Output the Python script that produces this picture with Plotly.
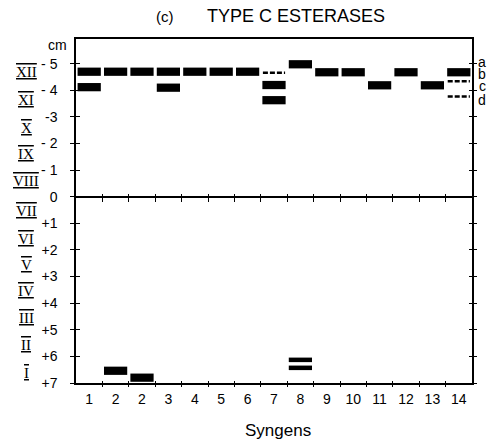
import plotly.graph_objects as go

# ---------------- data ----------------
syngen_labels = ["1", "2", "2", "3", "4", "5", "6", "7", "8", "9", "10", "11", "12", "13", "14"]

# strong bands: (column index, migration in cm)
band_col = [0, 0, 1, 1, 2, 2, 3, 3, 4, 5, 6, 7, 7, 8, 9, 10, 11, 12, 13, 14]
band_cm = [-4.70, -4.12, -4.70, 6.54, -4.70, 6.80, -4.70, -4.10, -4.70, -4.70, -4.70,
           -4.20, -3.63, -4.98, -4.68, -4.68, -4.19, -4.68, -4.19, -4.68]

# thin bands
thin_col = [8, 8]
thin_cm = [6.13, 6.43]

# faint (dashed) bands
faint_col = [7, 14, 14]
faint_cm = [-4.66, -4.34, -3.77]

tick_cm = [-5, -4, -3, -2, -1, 0, 1, 2, 3, 4, 5, 6, 7]
tick_text = ["- 5", "- 4", "-3", "- 2", "- 1", "0", "+1", "+2", "+3", "+4", "+5", "+6", "+7"]

roman_text = ["XII", "XI", "X", "IX", "VIII", "VII", "VI", "V", "IV", "III", "II", "I"]
roman_cm = [-4.70, -3.65, -2.60, -1.62, -0.60, 0.55, 1.57, 2.57, 3.55, 4.55, 5.57, 6.62]

side_text = ["a", "b", "c", "d"]
side_cm = [-5.05, -4.62, -4.15, -3.62]

# ---------------- layout constants ----------------
W, H = 489, 446
ML, MR, MT, MB = 76, 17, 39, 63
PW, PH = W - ML - MR, H - MT - MB
Y_TOP = -5.93
Y_BOT = 7
BAND_W = 0.88
THICK = 0.31
THIN = 0.17
FONT = "Liberation Sans, Arial, sans-serif"

zero_frac = (Y_BOT - 0) / (Y_BOT - Y_TOP)
boundaries = [i + 0.5 for i in range(len(syngen_labels) - 1)]


def px_x(px):
    return (px - ML) / PW


def px_y(py):
    return (H - MB - py) / PH


fig = go.Figure()

fig.add_trace(go.Bar(
    x=band_col, y=[THICK] * len(band_col), base=[c - THICK / 2 for c in band_cm],
    width=BAND_W, marker=dict(color="black", line=dict(width=0)),
    showlegend=False, hoverinfo="skip"))
fig.add_trace(go.Bar(
    x=thin_col, y=[THIN] * len(thin_col), base=[c - THIN / 2 for c in thin_cm],
    width=BAND_W, marker=dict(color="black", line=dict(width=0)),
    showlegend=False, hoverinfo="skip"))

fx, fy = [], []
for c, v in zip(faint_col, faint_cm):
    fx += [c - BAND_W / 2 + 0.02, c + BAND_W / 2 - 0.02, None]
    fy += [v, v, None]
fig.add_trace(go.Scatter(x=fx, y=fy, mode="lines",
                         line=dict(color="black", width=2.6, dash="5px,2px"),
                         showlegend=False, hoverinfo="skip"))

# helper traces so that the extra tick axes are drawn
for xa, ya in [("x2", "y"), ("x3", "y"), ("x", "y2"), ("x", "y3")]:
    fig.add_trace(go.Scatter(x=[None], y=[None], xaxis=xa, yaxis=ya,
                             showlegend=False, hoverinfo="skip"))

xr = [-0.5, len(syngen_labels) - 0.5]
yr = [Y_BOT, Y_TOP]

fig.update_layout(
    width=W, height=H,
    margin=dict(l=ML, r=MR, t=MT, b=MB),
    paper_bgcolor="white", plot_bgcolor="white",
    barmode="overlay",
    font=dict(family=FONT, size=14, color="black"),
    xaxis=dict(range=xr, tickmode="array", tickvals=list(range(len(syngen_labels))),
               ticktext=syngen_labels, ticks="", showgrid=False, zeroline=False,
               showline=True, linecolor="black", linewidth=1.5, mirror=True,
               ticklabelstandoff=2,
               tickfont=dict(family=FONT, size=14)),
    xaxis2=dict(range=xr, overlaying="x", anchor="free", position=3 / PH,
                tickmode="array", tickvals=boundaries, ticks="outside", ticklen=6,
                tickcolor="black", tickwidth=1.2, showticklabels=False,
                showline=False, showgrid=False, zeroline=False),
    xaxis3=dict(range=xr, overlaying="x", anchor="free", position=zero_frac + 4 / PH,
                tickmode="array", tickvals=boundaries, ticks="outside", ticklen=8,
                tickcolor="black", tickwidth=1.2, showticklabels=False,
                showline=False, showgrid=False, zeroline=False),
    yaxis=dict(range=yr, tickmode="array", tickvals=tick_cm, ticktext=tick_text,
               ticks="outside", ticklen=4, tickcolor="black", tickwidth=1.2,
               showgrid=False, zeroline=True, zerolinecolor="black", zerolinewidth=1.5,
               showline=True, linecolor="black", linewidth=1.5, mirror=True,
               ticklabelstandoff=10,
               tickfont=dict(family=FONT, size=14)),
    yaxis2=dict(range=yr, overlaying="y", anchor="free", position=4 / PW, side="left",
                tickmode="array", tickvals=tick_cm, ticks="outside", ticklen=8,
                tickcolor="black", tickwidth=1.2, showticklabels=False,
                showline=False, showgrid=False, zeroline=False),
    yaxis3=dict(range=yr, overlaying="y", anchor="free", position=1 - 4 / PW, side="right",
                tickmode="array", tickvals=tick_cm, ticks="outside", ticklen=8,
                tickcolor="black", tickwidth=1.2, showticklabels=False,
                showline=False, showgrid=False, zeroline=False),
)

ann = []
for t, v in zip(roman_text, roman_cm):
    ann.append(dict(text='<span style="text-decoration:underline overline">' + t + '</span>',
                    xref="paper", yref="y", x=px_x(26), y=v,
                    xanchor="center", yanchor="middle", showarrow=False,
                    font=dict(family="Liberation Serif, serif", size=15, color="black")))
for t, v in zip(side_text, side_cm):
    ann.append(dict(text=t, xref="paper", yref="y", x=px_x(482), y=v,
                    xanchor="center", yanchor="middle", showarrow=False,
                    font=dict(family=FONT, size=14, color="black")))
ann.append(dict(text="cm", xref="paper", yref="paper", x=px_x(57), y=px_y(45),
                xanchor="center", yanchor="middle", showarrow=False,
                font=dict(family=FONT, size=14, color="black")))
ann.append(dict(text="(c)", xref="paper", yref="paper", x=px_x(165), y=px_y(16),
                xanchor="center", yanchor="middle", showarrow=False,
                font=dict(family=FONT, size=15, color="black")))
ann.append(dict(text="TYPE C ESTERASES", xref="paper", yref="paper", x=px_x(296), y=px_y(16),
                xanchor="center", yanchor="middle", showarrow=False,
                font=dict(family=FONT, size=18, color="black")))
ann.append(dict(text="Syngens", xref="paper", yref="paper", x=px_x(278), y=px_y(430),
                xanchor="center", yanchor="middle", showarrow=False,
                font=dict(family=FONT, size=17, color="black")))
fig.update_layout(annotations=ann)

fig.write_html("out.html", config={"displayModeBar": False},
               post_script="document.body.style.margin='0';")
